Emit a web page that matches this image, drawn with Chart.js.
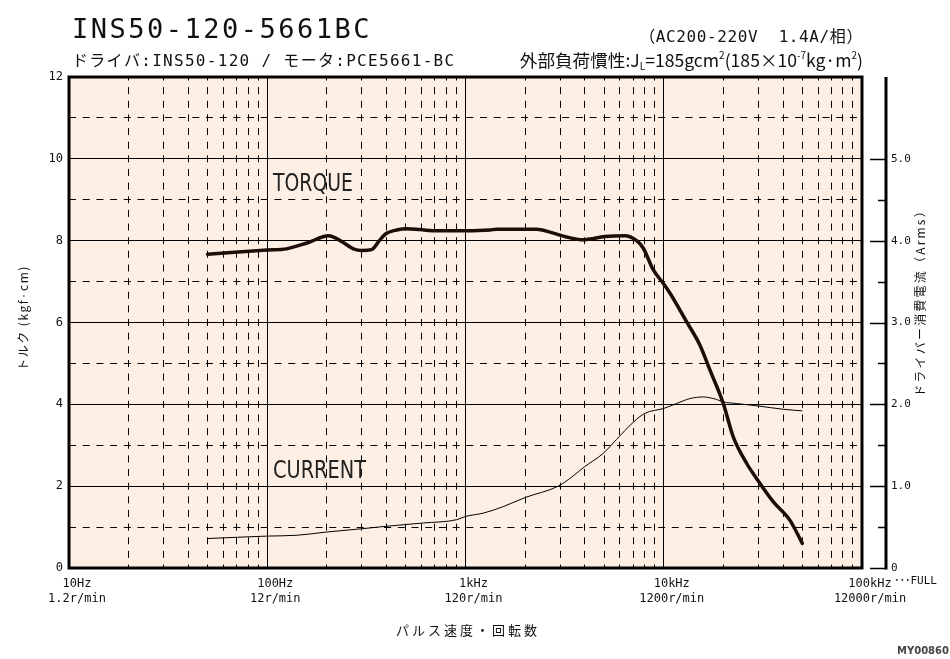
<!DOCTYPE html>
<html lang="ja">
<head>
<meta charset="utf-8">
<title>INS50-120-5661BC</title>
<script src="https://cdn.jsdelivr.net/npm/chart.js@4.4.1/dist/chart.umd.min.js"></script>
<style>
  html, body { margin: 0; padding: 0; background: #fff; }
  #chart { display: block; }
</style>
</head>
<body>
<canvas id="chart" width="950" height="659"></canvas>
<script>
// トルク特性 (パルス速度 Hz → kgf·cm)
const torqueFreq = [50, 100, 125, 160, 204, 237, 272, 300, 336, 370, 400, 449, 505, 589, 715, 1000, 1330, 1435, 2285, 2666, 3300, 3923, 4240, 5044, 6367, 7295, 7875, 8846, 9930, 10740, 13030, 15210, 17090, 19940, 22390, 26160, 29370, 35640, 43250, 50000];
const torqueVal = [7.67, 7.77, 7.80, 7.95, 8.12, 7.98, 7.80, 7.76, 7.78, 8.02, 8.18, 8.26, 8.29, 8.27, 8.24, 8.24, 8.26, 8.28, 8.28, 8.21, 8.08, 8.02, 8.04, 8.10, 8.12, 8.00, 7.82, 7.29, 6.96, 6.72, 6.02, 5.45, 4.84, 4.03, 3.21, 2.56, 2.19, 1.62, 1.17, 0.60];

// ドライバー消費電流 (Hz → Arms)
const currentFreq = [50, 100, 141, 200, 300, 400, 612, 902, 1000, 1228, 1549, 1994, 2935, 3428, 4000, 4946, 5776, 7010, 8030, 10000, 11600, 13540, 15810, 18460, 19940, 23300, 29930, 40000, 50000];
const currentVal = [0.36, 0.39, 0.40, 0.44, 0.48, 0.51, 0.55, 0.59, 0.63, 0.67, 0.75, 0.86, 1.00, 1.11, 1.24, 1.40, 1.57, 1.78, 1.89, 1.95, 2.01, 2.07, 2.09, 2.06, 2.03, 2.01, 1.98, 1.94, 1.92];

// 目盛り
const decadeHz = [10, 100, 1000, 10000, 100000];
const hzLabels = ['10Hz', '100Hz', '1kHz', '10kHz', '100kHz'];
const rpmLabels = ['1.2r/min', '12r/min', '120r/min', '1200r/min', '12000r/min'];
const gridHz = [
  10, 20, 30, 40, 50, 60, 70, 80, 90,
  100, 200, 300, 400, 500, 600, 700, 800, 900,
  1000, 2000, 3000, 4000, 5000, 6000, 7000, 8000, 9000,
  10000, 20000, 30000, 40000, 50000, 60000, 70000, 80000, 90000,
  100000
];
const torqueTicks = [0, 1, 2, 3, 4, 5, 6, 7, 8, 9, 10, 11, 12];
const currentTicks = [0, 0.5, 1, 1.5, 2, 2.5, 3, 3.5, 4, 4.5, 5];

const MONO = '"DejaVu Sans Mono", "Noto Sans CJK JP", monospace';
const JP = '"Noto Sans CJK JP", sans-serif';
const INK = '#111';

function put(ctx, str, x, y, font, o = {}) {
  ctx.save();
  ctx.font = font;
  ctx.fillStyle = o.color || INK;
  ctx.textAlign = o.align || 'left';
  ctx.textBaseline = o.baseline || 'alphabetic';
  ctx.letterSpacing = o.spacing || '0px';
  if (o.rotate) { ctx.translate(x, y); ctx.rotate(o.rotate); x = 0; y = 0; }
  if (o.maxWidth) ctx.fillText(str, x, y, o.maxWidth);
  else ctx.fillText(str, x, y);
  ctx.restore();
}

// 右寄せで大きさの違う文字列を並べる (上付き・下付き用)
function putRuns(ctx, runs, xRight, baseline, family) {
  ctx.save();
  ctx.fillStyle = INK;
  ctx.textBaseline = 'alphabetic';
  let total = 0;
  runs.forEach(r => { ctx.font = r[1] + 'px ' + family; total += ctx.measureText(r[0]).width; });
  let x = xRight - total;
  runs.forEach(r => {
    ctx.font = r[1] + 'px ' + family;
    ctx.fillText(r[0], x, baseline + r[2]);
    x += ctx.measureText(r[0]).width;
  });
  ctx.restore();
}

const decor = {
  id: 'decor',
  beforeDraw(chart) {
    const { ctx, chartArea: a } = chart;
    ctx.save();
    ctx.fillStyle = '#fff';
    ctx.fillRect(0, 0, chart.width, chart.height);
    ctx.fillStyle = '#fdefe4';
    ctx.fillRect(a.left, a.top, a.right - a.left, a.bottom - a.top);
    ctx.restore();
  },
  afterDraw(chart) {
    const { ctx, chartArea: a, scales } = chart;
    ctx.save();
    ctx.strokeStyle = '#000';
    ctx.lineWidth = 3;
    ctx.strokeRect(a.left, a.top, a.right - a.left, a.bottom - a.top);

    // 右側の電流軸
    const y1 = scales.y1;
    const ax = 886;
    ctx.beginPath();
    ctx.moveTo(ax, y1.getPixelForValue(6));
    ctx.lineTo(ax, y1.getPixelForValue(0) + 1.5);
    ctx.stroke();
    ctx.lineWidth = 1.5;
    currentTicks.forEach(v => {
      const py = Math.round(y1.getPixelForValue(v)) + 0.5;
      const len = Number.isInteger(v) ? 16 : 8;
      ctx.beginPath();
      ctx.moveTo(ax - len, py);
      ctx.lineTo(ax, py);
      ctx.stroke();
    });
    ctx.restore();

    // 見出し
    put(ctx, 'INS50-120-5661BC', 72, 38, '27px ' + MONO, { spacing: '2.5px' });
    put(ctx, 'ドライバ:INS50-120 / モータ:PCE5661-BC', 72, 66, '16px ' + MONO, { spacing: '1.3px' });
    put(ctx, '（AC200-220V  1.4A/相）', 863, 42, '16px ' + MONO, { align: 'right', spacing: '0.6px' });
    putRuns(ctx, [
      ['外部負荷慣性:J', 17.6, 0], ['L', 10, 3], ['=185gcm', 17.6, 0], ['2', 10, -8],
      ['(185×10', 17.6, 0], ['-7', 10, -8], ['kg·m', 17.6, 0], ['2', 10, -8], [')', 17.6, 0]
    ], 863, 67, JP);

    // 軸タイトル
    put(ctx, 'トルク (kgf·cm)', 23, 318, '12px ' + JP, { align: 'center', baseline: 'middle', spacing: '1.5px', rotate: -Math.PI / 2 });
    put(ctx, 'ドライバー消費電流（Arms）', 920, 300, '12px ' + JP, { align: 'center', baseline: 'middle', spacing: '2.2px', rotate: -Math.PI / 2 });
    put(ctx, 'パルス速度・回転数', 468, 630, '13px ' + JP, { align: 'center', baseline: 'middle', spacing: '3px' });

    // 曲線名
    put(ctx, 'TORQUE', 273, 191, '24px "DejaVu Sans"', { maxWidth: 80, color: '#222' });
    put(ctx, 'CURRENT', 273, 478, '24px "DejaVu Sans"', { maxWidth: 93, color: '#222' });

    put(ctx, '･･･FULL', 894, 584, '11px ' + MONO);
    put(ctx, 'MY00860', 897, 654, 'bold 10px "DejaVu Sans"', { color: '#444' });
  }
};

new Chart(document.getElementById('chart'), {
  type: 'line',
  data: {
    datasets: [
      {
        label: 'TORQUE',
        data: torqueFreq.map((f, i) => ({ x: f, y: torqueVal[i] })),
        yAxisID: 'y',
        borderColor: '#1c0d08',
        borderWidth: 3.5,
        borderCapStyle: 'round',
        borderJoinStyle: 'round',
        pointRadius: 0,
        cubicInterpolationMode: 'monotone',
        fill: false
      },
      {
        label: 'CURRENT',
        data: currentFreq.map((f, i) => ({ x: f, y: currentVal[i] })),
        yAxisID: 'y1',
        borderColor: '#000',
        borderWidth: 1,
        pointRadius: 0,
        cubicInterpolationMode: 'monotone',
        fill: false
      }
    ]
  },
  options: {
    responsive: false,
    devicePixelRatio: 1,
    animation: false,
    layout: { padding: { top: 77, right: 0, bottom: 0, left: 0 } },
    scales: {
      x: {
        type: 'logarithmic',
        min: 10,
        max: 100000,
        bounds: 'data',
        afterBuildTicks: s => { s.ticks = gridHz.map(v => ({ value: v })); },
        afterFit: s => { s.height = 91; },
        grid: { color: '#000', lineWidth: 1, drawTicks: false },
        border: {
          display: false,
          dash: c => (c.tick && !decadeHz.includes(c.tick.value)) ? [7, 6.64] : [],
          dashOffset: 3.5
        },
        ticks: {
          autoSkip: false, maxRotation: 0, minRotation: 0,
          padding: 8, labelOffset: 8, color: INK,
          font: { family: MONO, size: 12, lineHeight: 1.25 },
          callback: v => {
            const i = decadeHz.indexOf(v);
            return i < 0 ? '' : [hzLabels[i], rpmLabels[i]];
          }
        }
      },
      y: {
        min: 0,
        max: 12,
        afterBuildTicks: s => { s.ticks = torqueTicks.map(v => ({ value: v })); },
        afterFit: s => { s.width = 69; },
        grid: { color: '#000', lineWidth: 1, drawTicks: false },
        border: { display: false, dash: c => (c.tick && c.tick.value % 2 === 1) ? [7, 6.7] : [] },
        ticks: {
          autoSkip: false, padding: 6, color: INK,
          font: { family: MONO, size: 12 },
          callback: v => v % 2 === 0 ? String(v) : ''
        }
      },
      y1: {
        position: 'right',
        min: 0,
        max: 6,
        afterBuildTicks: s => { s.ticks = currentTicks.map(v => ({ value: v })); },
        afterFit: s => { s.width = 88; },
        grid: { display: false, drawTicks: false },
        border: { display: false },
        ticks: {
          autoSkip: false, padding: 29, color: INK,
          font: { family: MONO, size: 11 },
          callback: v => v === 0 ? '0' : (Number.isInteger(v) ? v.toFixed(1) : '')
        }
      }
    },
    plugins: { legend: { display: false }, tooltip: { enabled: false } }
  },
  plugins: [decor]
});
</script>
</body>
</html>
